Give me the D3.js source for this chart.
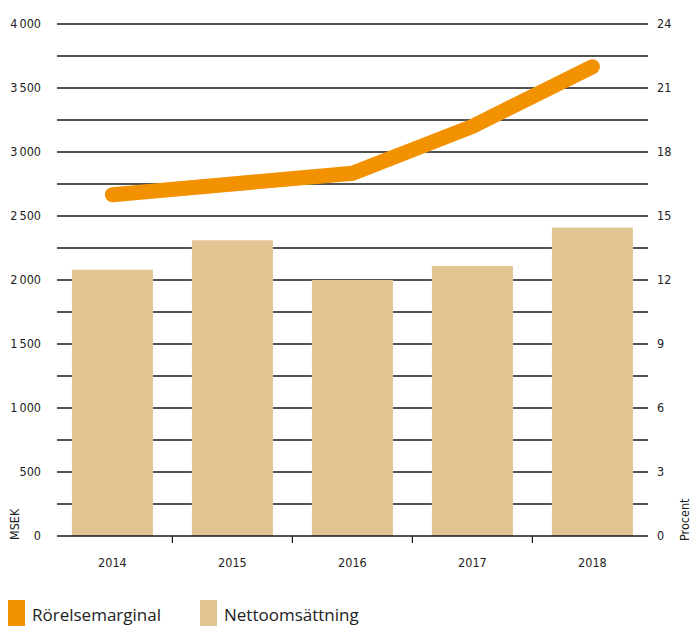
<!DOCTYPE html>
<html>
<head>
<meta charset="utf-8">
<script src="https://cdn.jsdelivr.net/npm/d3@7"></script>
<style>
  html, body { margin: 0; padding: 0; background: #fff; }
  svg { display: block; }
  .ax text { font-family: "Liberation Sans Narrow", "DejaVu Sans Condensed", sans-serif; font-size: 12.5px; fill: #222; }
  .lg text { font-family: "Open Sans", "Noto Sans", sans-serif; font-size: 17px; fill: #222; }
</style>
</head>
<body>
<svg id="chart" width="692" height="626"></svg>
<script>
// Nettoomsättning (MSEK) and rörelsemarginal (procent) per year
const years = ["2014", "2015", "2016", "2017", "2018"];
const nettoomsattning = [2080, 2310, 2000, 2110, 2410];
const rorelsemarginal = [16.0, 16.5, 17.0, 19.2, 22.0];
const leftTicks = [0, 500, 1000, 1500, 2000, 2500, 3000, 3500, 4000];
const rightTicks = [0, 3, 6, 9, 12, 15, 18, 21, 24];
const gridValues = d3.range(250, 4001, 250);

const svg = d3.select("#chart");
const plot = { left: 57, right: 648, top: 24, bottom: 536 };

const x = d3.scaleBand().domain(years).range([52.4, 652.4]).paddingInner(0.325).paddingOuter(0.1625);
const yL = d3.scaleLinear().domain([0, 4000]).range([plot.bottom, plot.top]);
const yR = d3.scaleLinear().domain([0, 24]).range([plot.bottom, plot.top]);

const fmt = v => d3.format(",")(v).replace(/,/g, "\u2009");

// horizontal grid
svg.append("g").selectAll("line").data(gridValues).join("line")
  .attr("x1", plot.left).attr("x2", plot.right)
  .attr("y1", d => yL(d)).attr("y2", d => yL(d))
  .attr("stroke", "#1a1a1a").attr("stroke-width", 1.4);

// bars
svg.append("g").selectAll("rect").data(years).join("rect")
  .attr("x", d => x(d))
  .attr("width", x.bandwidth())
  .attr("y", (d, i) => yL(nettoomsattning[i]))
  .attr("height", (d, i) => yL(0) - yL(nettoomsattning[i]))
  .attr("fill", "#e1c492");

// baseline and band separators
svg.append("line")
  .attr("x1", plot.left).attr("x2", plot.right)
  .attr("y1", yL(0)).attr("y2", yL(0))
  .attr("stroke", "#1a1a1a").attr("stroke-width", 1.4);
svg.append("g").selectAll("line").data(years.slice(1)).join("line")
  .attr("x1", d => x(d) - x.step() * x.paddingInner() / 2)
  .attr("x2", d => x(d) - x.step() * x.paddingInner() / 2)
  .attr("y1", yL(0)).attr("y2", yL(0) + 7)
  .attr("stroke", "#1a1a1a").attr("stroke-width", 1.2);

// left axis labels
const gl = svg.append("g").attr("class", "ax");
gl.selectAll("text").data(leftTicks).join("text")
  .attr("x", 41).attr("y", d => yL(d)).attr("dy", "0.35em")
  .attr("text-anchor", "end").text(fmt);
gl.append("text")
  .attr("transform", `translate(19, ${plot.bottom + 4}) rotate(-90)`)
  .attr("text-anchor", "start").text("MSEK");

// right axis labels
const gr = svg.append("g").attr("class", "ax");
gr.selectAll("text").data(rightTicks).join("text")
  .attr("x", 657).attr("y", d => yR(d)).attr("dy", "0.35em")
  .attr("text-anchor", "start").text(d => d);
gr.append("text")
  .attr("transform", `translate(689, ${plot.bottom + 5}) rotate(-90)`)
  .attr("text-anchor", "start").text("Procent");

// year labels
svg.append("g").attr("class", "ax").selectAll("text").data(years).join("text")
  .attr("x", d => x(d) + x.bandwidth() / 2).attr("y", 567)
  .attr("text-anchor", "middle").text(d => d);

// margin line
const line = d3.line()
  .x((d, i) => x(years[i]) + x.bandwidth() / 2)
  .y(d => yR(d));
svg.append("path").datum(rorelsemarginal)
  .attr("d", line)
  .attr("fill", "none").attr("stroke", "#f39200")
  .attr("stroke-width", 15).attr("stroke-linecap", "round").attr("stroke-linejoin", "miter");

// legend
const legend = [
  { label: "Rörelsemarginal", color: "#f39200", x: 8 },
  { label: "Nettoomsättning", color: "#e1c492", x: 200 }
];
const lg = svg.append("g").attr("class", "lg");
lg.selectAll("rect").data(legend).join("rect")
  .attr("x", d => d.x).attr("y", 600).attr("width", 17).attr("height", 26)
  .attr("fill", d => d.color);
lg.selectAll("text").data(legend).join("text")
  .attr("x", d => d.x + 24).attr("y", 621).text(d => d.label);
</script>
</body>
</html>
